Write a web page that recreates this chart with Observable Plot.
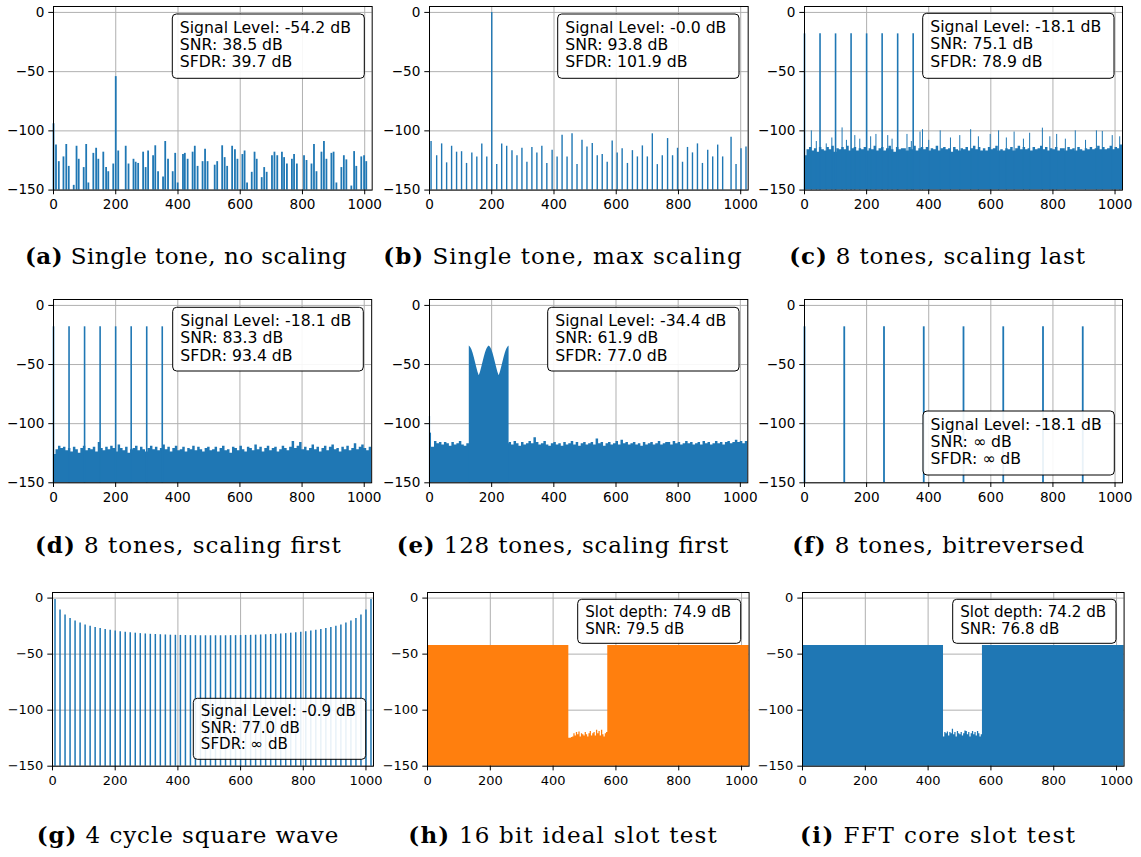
<!DOCTYPE html>
<html><head><meta charset="utf-8">
<script src="https://cdn.jsdelivr.net/npm/d3@7"></script>
<script src="https://cdn.jsdelivr.net/npm/@observablehq/plot@0.6"></script>
<style>
body{margin:0;background:#fff;}
#fig{position:relative;width:1141px;height:857px;overflow:hidden;background:#fff;}
</style></head><body><div id="fig"></div>
<script>
// ---------- axis ticks ----------
const xTicks = [0, 200, 400, 600, 800, 1000];
const yTicks = [0, -50, -100, -150];
const yMin = -150, yMax = 5, xMax = 1024;
const BLUE = "#1f77b4", ORANGE = "#ff7f0e";

// ---------- (a) single tone, no scaling ----------
const aBins = [0,8,17,32,41,49,65,74,81,97,105,112,128,137,144,160,169,176,192,200,208,232,241,257,264,272,288,296,304,320,327,336,352,359,368,383,391,399,416,422,431,447,454,463,479,487,495,518,526,542,550,558,574,583,591,607,614,622,637,646,653,669,677,685,702,710,719,734,741,750,766,773,782,805,813,829,837,845,861,869,877,893,900,909,925,933,941,957,966,973,989,998,1005];
const aLevels = [-94,-112,-126,-122,-111.5,-130,-146,-113,-124,-131,-111.5,-144,-119,-114.7,-124,-118,-131,-134.5,-128,-54.2,-117,-113,-128,-124,-126.5,-127.5,-118,-131,-117,-121,-112.6,-134.5,-139,-109,-124,-134.5,-119,-144,-120,-119,-124,-118,-113,-130,-126,-115.6,-126,-129,-126,-112.6,-122.6,-130,-113,-116,-124,-120,-117,-144,-135,-118,-124,-139.5,-131,-135,-121,-118,-121,-118,-122.6,-128,-124,-120,-128,-121,-125,-128,-111.5,-134.5,-118,-109,-124,-119,-118,-144,-131,-121,-124.5,-146.6,-117.5,-130,-122,-121,-126];

// ---------- (b) single tone, max scaling ----------
const bBins = [5,23,39,55,71,87,103,119,136,152,168,184,200,216,232,248,265,281,297,313,329,345,361,377,394,410,426,442,458,474,490,506,523,539,555,571,587,603,619,636,652,668,684,700,716,732,748,765,781,797,813,829,845,861,877,894,910,926,942,969,985,1001,1017];
const bLevels = [-109,-121,-111,-127,-113,-118,-117.6,-127.5,-118.6,-122,-111,-122,0,-128.5,-111,-113,-116.7,-121,-114.7,-126.5,-114,-118.6,-113,-127.5,-116.4,-122,-103.7,-122,-102.5,-128.5,-108,-113.6,-110.7,-121,-120,-126.5,-108.5,-118.6,-115,-127.5,-116.7,-122,-112.7,-122,-102.5,-128.5,-121,-106.5,-121,-114.7,-126.5,-114,-118.6,-111,-127.5,-116.4,-122,-112,-122,-105.4,-128.5,-115,-113.6];

// ---------- (c) 8 tones, scaling last ----------
const cToneBins = [0,50,100,150,200,250,300,350];
const cToneLevels = [-18.1,-18.1,-18.1,-18.1,-18.1,-18.1,-18.1,-18.1];
const cFloorStep = 8;
const cFloor = [
 -121,-116,-114,-117,-115,-118,-114,-116,
 -117,-114,-116,-113,-118,-115,-116,-114,
 -116,-113,-117,-115,-114,-117,-115,-116,
 -114,-117,-115,-116,-113,-117,-115,-114,
 -117,-115,-113,-116,-118,-114,-116,-115,
 -115,-117,-114,-116,-113,-117,-115,-114,
 -116,-114,-117,-115,-116,-113,-117,-115,
 -114,-116,-115,-118,-114,-116,-117,-115,
 -116,-114,-117,-115,-113,-116,-114,-117,
 -115,-117,-114,-116,-115,-113,-117,-116,
 -117,-115,-116,-114,-117,-115,-113,-116,
 -114,-116,-115,-117,-114,-116,-115,-113,
 -116,-114,-117,-115,-116,-114,-117,-115,
 -115,-117,-114,-116,-115,-117,-114,-116,
 -117,-115,-116,-114,-116,-115,-113,-116,
 -114,-116,-115,-113,-116,-114,-115,-112];
const cSpikeBins = [22,38,70,88,121,135,162,178,213,230,268,282,330,344,372,380,400,437,470,500,535,560,598,625,650,675,705,725,766,790,812,840,872,905,940,959,991,1015];
const cSpikeLevels = [-100,-109,-111,-106,-97.5,-108,-104,-107,-105,-103,-104,-107,-103,-109,-101,-99,-108,-100,-106,-104,-99,-105,-103,-100,-106,-101,-107,-102,-97.7,-105,-103,-107,-100,-108,-100,-100.5,-104,-105];

// ---------- (d) 8 tones, scaling first ----------
const dToneBins = [0,50,100,150,200,250,300,350];
const dToneLevels = [-18.1,-18.1,-18.1,-18.1,-18.1,-18.1,-18.1,-18.1];
const dFloorStep = 8;
const dFloor = [
 -126,-122,-119,-121,-120,-123,-121,-124,
 -120,-122,-125,-121,-119,-123,-121,-122,
 -120,-124,-116,-121,-123,-120,-122,-119,
 -121,-124,-118,-121,-123,-120,-125,-122,
 -121,-119,-123,-120,-122,-124,-121,-119,
 -122,-120,-123,-121,-118,-122,-120,-124,
 -121,-119,-123,-122,-120,-124,-121,-122,
 -119,-123,-120,-122,-124,-121,-120,-123,
 -122,-120,-124,-121,-119,-123,-122,-125,
 -120,-121,-123,-119,-122,-124,-120,-121,
 -123,-118,-122,-120,-124,-121,-119,-123,
 -121,-120,-124,-122,-119,-121,-123,-120,
 -115,-121,-119,-116,-122,-120,-123,-121,
 -118,-122,-120,-124,-121,-119,-123,-120,
 -118,-122,-121,-124,-120,-122,-119,-123,
 -121,-117,-122,-120,-118,-121,-123,-120];

// ---------- (e) 128 tones, scaling first ----------
const eDcBins = [0, 3];
const eDcLevels = [-94, -108];
const eFloorStep = 8;
const eFloor = [
 -120,-120,-115,-117,-116,-118,-116,-117,
 -119,-116,-118,-117,-115,-118,-119,-117,
 -117,-118,-117,-116,-118,-117,-116,-118,
 -117,-116,-118,-117,-116,-118,-117,-117,
 -116,-118,-115,-117,-119,-116,-118,-117,
 -115,-117,-112,-116,-118,-117,-115,-118,
 -119,-117,-116,-118,-117,-119,-116,-118,
 -117,-115,-118,-116,-119,-117,-116,-118,
 -117,-116,-118,-113,-117,-116,-119,-117,
 -116,-118,-117,-115,-118,-114,-117,-116,
 -118,-117,-116,-118,-117,-119,-116,-118,
 -117,-116,-118,-117,-115,-118,-117,-116,
 -116,-118,-115,-117,-116,-118,-117,-115,
 -117,-116,-118,-117,-116,-118,-115,-117,
 -116,-118,-117,-115,-117,-116,-118,-116,
 -115,-117,-116,-114,-116,-115,-117,-115];
const eToneStart = 128, eToneStep = 4;
const eTones = [-34.4,-35.3,-37.2,-40.3,-44,-48.2,-52.4,-56.5,-59.5,-56.5,-52.4,-48.2,-44,-40.3,-37.2,-35.3,-34.4,-35.3,-37.2,-40.3,-44,-48.2,-52.4,-56.5,-59.5,-56.5,-52.4,-48.2,-44,-40.3,-37.2,-35.3,-34.4];

// ---------- (f) 8 tones, bitreversed ----------
const fBins = [0,128,256,384,512,640,768,896];
const fLevels = [-18.1,-18.1,-18.1,-18.1,-18.1,-18.1,-18.1,-18.1];

// ---------- (g) 4 cycle square wave ----------
const gBins = [8,24,40,56,72,88,104,120,136,152,168,184,200,216,232,248,264,280,296,312,328,344,360,376,392,408,424,440,456,472,488,504,520,536,552,568,584,600,616,632,648,664,680,696,712,728,744,760,776,792,808,824,840,856,872,888,904,920,936,952,968,984,1000,1016];
const gLevels = [-1.2,-10.6,-15.1,-18.1,-20.4,-22.3,-23.9,-25.2,-26.3,-27.2,-28.0,-28.7,-29.4,-30.0,-30.5,-30.9,-31.3,-31.7,-32.0,-32.3,-32.5,-32.7,-32.9,-33.1,-33.2,-33.3,-33.4,-33.5,-33.5,-33.6,-33.6,-33.6,
                 -33.6,-33.6,-33.6,-33.5,-33.5,-33.4,-33.3,-33.2,-33.1,-32.9,-32.7,-32.5,-32.3,-32.0,-31.7,-31.3,-30.9,-30.5,-30.0,-29.4,-28.7,-28.0,-27.2,-26.3,-25.2,-23.9,-22.3,-20.4,-18.1,-15.1,-10.6,-1.2];

// ---------- (h) 16 bit ideal slot test ----------
const hSignal = -42.4;
const hSlotStart = 450, hSlotStep = 4, hSlotEnd = 574;
const hSlot = [-125,-125,-124.5,-124,-121,-123,-120,-122,-119.5,-124,-121,-122,-123,-120,-122,-124,-121,-119,-123,-121,-120,-123,-118,-121,-119,-123,-118,-122,-124,-121,-120];

// ---------- (i) FFT core slot test ----------
const iSignal = -42.4;
const iSlotStart = 449, iSlotStep = 4, iSlotEnd = 573;
const iSlot = [-124,-120,-121,-119.5,-123,-120,-121,-117,-122,-120,-124,-119,-121,-122,-120,-123,-121,-118.5,-119,-122,-120,-124,-121,-119,-122,-120,-123,-119,-121,-124,-122];

// ---------- annotation text ----------
const statsText = {
  a: ["Signal Level: -54.2 dB", "SNR: 38.5 dB", "SFDR: 39.7 dB"],
  b: ["Signal Level: -0.0 dB", "SNR: 93.8 dB", "SFDR: 101.9 dB"],
  c: ["Signal Level: -18.1 dB", "SNR: 75.1 dB", "SFDR: 78.9 dB"],
  d: ["Signal Level: -18.1 dB", "SNR: 83.3 dB", "SFDR: 93.4 dB"],
  e: ["Signal Level: -34.4 dB", "SNR: 61.9 dB", "SFDR: 77.0 dB"],
  f: ["Signal Level: -18.1 dB", "SNR: \u221e dB", "SFDR: \u221e dB"],
  g: ["Signal Level: -0.9 dB", "SNR: 77.0 dB", "SFDR: \u221e dB"],
  h: ["Slot depth: 74.9 dB", "SNR: 79.5 dB"],
  i: ["Slot depth: 74.2 dB", "SNR: 76.8 dB"]
};
const captionTags = ["(a)","(b)","(c)","(d)","(e)","(f)","(g)","(h)","(i)"];
const captionTexts = ["Single tone, no scaling","Single tone, max scaling","8 tones, scaling last",
  "8 tones, scaling first","128 tones, scaling first","8 tones, bitreversed",
  "4 cycle square wave","16 bit ideal slot test","FFT core slot test"];

// ---------- layout (pixels) ----------
const rowTop = [5.7, 299, 592.3], rowBottom = [189.3, 482.3, 766];
const colLeft = [[53.3, 429, 804.3], [53.3, 428.7, 804], [51.7, 426.7, 801.7]];
const colRight = [[372, 747.7, 1122.3], [371.5, 747, 1122], [372.7, 748.3, 1123.3]];
const tickFont = [13.6, 13.6, 13];
const ML = 60, MR = 14, MT = 8, MB = 32;

const fig = document.getElementById("fig");
const xFormat = d3.format("d");

function stems(bins, levels, color, width) {
  const data = bins.map((b, i) => ({x: b, y: levels[i]}));
  return Plot.ruleX(data, {x: "x", y1: () => yMin, y2: "y", stroke: color, strokeWidth: width});
}
function floorArea(values, start, step, color) {
  const data = values.map((v, i) => ({x: start + i * step, y: v}));
  data.push({x: start + values.length * step, y: values[values.length - 1]});
  return Plot.areaY(data, {x: "x", y1: () => yMin, y2: "y", curve: "step-after", fill: color});
}
function slotArea(signal, slot, start, step, end, color) {
  const data = [{x: 0, y: signal}];
  slot.forEach((v, i) => data.push({x: start + i * step, y: v}));
  data.push({x: end, y: signal});
  data.push({x: xMax, y: signal});
  return Plot.areaY(data, {x: "x", y1: () => yMin, y2: "y", curve: "step-after", fill: color});
}
function envelope(values, start, step, color) {
  const data = values.map((v, i) => ({x: start + i * step, y: v}));
  return Plot.areaY(data, {x: "x", y1: () => yMin, y2: "y", fill: color});
}

function makePanel(r, c, marks) {
  const w = colRight[r][c] - colLeft[r][c];
  const h = rowBottom[r] - rowTop[r];
  const svg = Plot.plot({
    width: w + ML + MR, height: h + MT + MB,
    marginLeft: ML, marginRight: MR, marginTop: MT, marginBottom: MB,
    x: {domain: [0, xMax]},
    y: {domain: [yMin, yMax]},
    style: {fontFamily: "DejaVu Sans", fontSize: tickFont[r] + "px", color: "#000", background: "transparent", overflow: "visible"},
    marks: [
      Plot.gridX({ticks: xTicks, stroke: "#b0b0b0", strokeOpacity: 1, strokeWidth: 1}),
      Plot.gridY({ticks: yTicks, stroke: "#b0b0b0", strokeOpacity: 1, strokeWidth: 1}),
      ...marks,
      Plot.frame({stroke: "#000", strokeWidth: 1}),
      Plot.axisX({ticks: xTicks, tickFormat: xFormat, tickSize: 4.7, tickPadding: 4.5, label: null}),
      Plot.axisY({ticks: yTicks, tickSize: 4.7, tickPadding: 4.5, label: null})
    ]
  });
  svg.style.position = "absolute";
  svg.style.left = (colLeft[r][c] - ML) + "px";
  svg.style.top = (rowTop[r] - MT) + "px";
  svg.style.maxWidth = "none";
  fig.appendChild(svg);
}

makePanel(0, 0, [stems(aBins, aLevels, BLUE, 1.8)]);
makePanel(0, 1, [stems(bBins, bLevels, BLUE, 1.4)]);
makePanel(0, 2, [floorArea(cFloor, 0, cFloorStep, BLUE), stems(cSpikeBins, cSpikeLevels, BLUE, 1), stems(cToneBins, cToneLevels, BLUE, 1.6)]);
makePanel(1, 0, [floorArea(dFloor, 0, dFloorStep, BLUE), stems(dToneBins, dToneLevels, BLUE, 1.6)]);
makePanel(1, 1, [floorArea(eFloor, 0, eFloorStep, BLUE), envelope(eTones, eToneStart, eToneStep, BLUE), stems(eDcBins, eDcLevels, BLUE, 1.2)]);
makePanel(1, 2, [stems(fBins, fLevels, BLUE, 1.8)]);
makePanel(2, 0, [stems(gBins, gLevels, BLUE, 1.5)]);
makePanel(2, 1, [slotArea(hSignal, hSlot, hSlotStart, hSlotStep, hSlotEnd, ORANGE)]);
makePanel(2, 2, [slotArea(iSignal, iSlot, iSlotStart, iSlotStep, iSlotEnd, BLUE)]);

// ---------- overlay: stat boxes and captions ----------
const NS = "http://www.w3.org/2000/svg";
const ov = document.createElementNS(NS, "svg");
ov.setAttribute("width", 1141); ov.setAttribute("height", 857);
ov.style.position = "absolute"; ov.style.left = "0px"; ov.style.top = "0px";
fig.appendChild(ov);

const boxes = {
  a: [172.3, 14, 192, 64.3, 0], b: [557.7, 14, 181.3, 64.3, 0], c: [922.7, 13.3, 191.3, 65, 0],
  d: [172.7, 307.3, 190.6, 63.7, 1], e: [547.7, 307.3, 191.3, 63.7, 1], f: [923, 411, 191.3, 64, 1],
  g: [193.3, 698.3, 172.4, 61, 2], h: [577.7, 599.3, 163, 44, 2], i: [952.7, 599.3, 163.3, 44, 2]
};
const legendFont = [15.7, 15.7, 15.1], legendLead = [17.3, 17.3, 16.4], legendFirst = [18.7, 18.7, 17.9];

for (const k of Object.keys(boxes)) {
  const [x, y, w, h, r] = boxes[k];
  const rect = document.createElementNS(NS, "rect");
  rect.setAttribute("x", x); rect.setAttribute("y", y);
  rect.setAttribute("width", w); rect.setAttribute("height", h);
  rect.setAttribute("rx", 4); rect.setAttribute("fill", "#fff"); rect.setAttribute("fill-opacity", 0.9);
  rect.setAttribute("stroke", "#000"); rect.setAttribute("stroke-width", 1);
  ov.appendChild(rect);
  statsText[k].forEach((line, j) => {
    const t = document.createElementNS(NS, "text");
    t.setAttribute("x", x + 7.5);
    t.setAttribute("y", y + legendFirst[r] + j * legendLead[r]);
    t.setAttribute("font-family", "DejaVu Sans");
    t.setAttribute("font-size", legendFont[r]);
    t.setAttribute("fill", "#000");
    t.textContent = line;
    ov.appendChild(t);
  });
}

const capX = [[25, 346.7], [383.3, 741.7], [789.3, 1085], [35, 340.7], [396.7, 728.3], [792.3, 1084.3], [36.7, 338.3], [408.3, 716.7], [800, 1075]];
const capBase = [264.3, 553.3, 843.3];
captionTags.forEach((tag, i) => {
  const t = document.createElementNS(NS, "text");
  const [x0, x1] = capX[i];
  t.setAttribute("x", x0);
  t.setAttribute("y", capBase[Math.floor(i / 3)]);
  t.setAttribute("font-family", "DejaVu Serif");
  t.setAttribute("font-size", 23);
  t.setAttribute("fill", "#000");
  t.setAttribute("textLength", x1 - x0);
  t.setAttribute("lengthAdjust", "spacing");
  const b = document.createElementNS(NS, "tspan");
  b.setAttribute("font-weight", "bold");
  b.textContent = tag;
  t.appendChild(b);
  t.appendChild(document.createTextNode(" " + captionTexts[i]));
  ov.appendChild(t);
});
</script></body></html>
